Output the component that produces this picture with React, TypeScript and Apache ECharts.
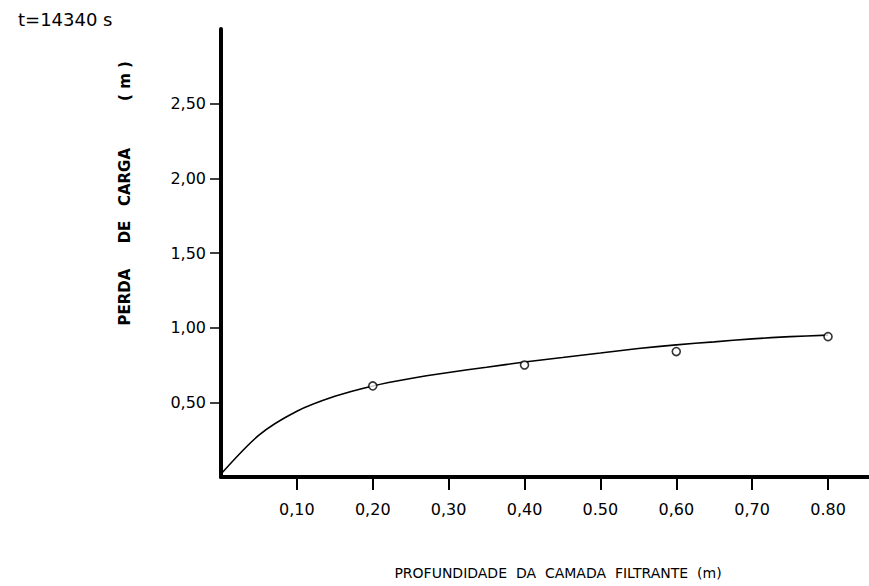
import React, { useEffect, useRef } from "react";
import * as echarts from "echarts";

const titleText = "t=14340 s";
const xAxisTitle = "PROFUNDIDADE  DA  CAMADA  FILTRANTE  (m)";
const yAxisTitleParts = ["PERDA", "DE", "CARGA", "( m )"];

const xTickValues = [0.1, 0.2, 0.3, 0.4, 0.5, 0.6, 0.7, 0.8];
const xTickLabels = ["0,10", "0,20", "0,30", "0,40", "0.50", "0,60", "0,70", "0.80"];
const yTickValues = [0.5, 1.0, 1.5, 2.0, 2.5];
const yTickLabels = ["0,50", "1,00", "1,50", "2,00", "2,50"];

// measured points (open circles)
const pointDepth = [0.2, 0.4, 0.6, 0.8];
const pointLoss = [0.61, 0.75, 0.84, 0.94];

// fitted curve
const curveDepth = [0, 0.05, 0.1, 0.15, 0.2, 0.25, 0.3, 0.35, 0.4, 0.45, 0.5, 0.55, 0.6, 0.65, 0.7, 0.75, 0.8];
const curveLoss = [0.02, 0.28, 0.44, 0.54, 0.61, 0.66, 0.7, 0.735, 0.77, 0.8, 0.83, 0.86, 0.885, 0.905, 0.925, 0.94, 0.95];

const FONT = "DejaVu Sans";

export default function App() {
  const ref = useRef<HTMLDivElement>(null);
  useEffect(() => {
    if (!ref.current) return;
    const chart = echarts.init(ref.current, null, { renderer: "svg" });
    const xLabelMap: Record<string, string> = {};
    xTickValues.forEach((v, i) => (xLabelMap[v.toFixed(2)] = xTickLabels[i]));
    const yLabelMap: Record<string, string> = {};
    yTickValues.forEach((v, i) => (yLabelMap[v.toFixed(2)] = yTickLabels[i]));

    const yParts = [
      { text: yAxisTitleParts[0], y: 297 },
      { text: yAxisTitleParts[1], y: 232 },
      { text: yAxisTitleParts[2], y: 177 },
      { text: yAxisTitleParts[3], y: 81 },
    ];

    chart.setOption({
      animation: false,
      backgroundColor: "#ffffff",
      grid: { left: 221, right: 0, top: 29, bottom: 109, containLabel: false },
      xAxis: {
        type: "value",
        min: 0,
        max: 0.854,
        splitLine: { show: false },
        axisLine: { show: true, onZero: false, lineStyle: { color: "#000", width: 4 } },
        axisTick: {
          show: true,
          customValues: xTickValues,
          length: 13,
          lineStyle: { color: "#000", width: 2 },
        },
        axisLabel: {
          customValues: xTickValues,
          margin: 24,
          color: "#000",
          fontFamily: FONT,
          fontSize: 16,
          formatter: (v: number) => xLabelMap[v.toFixed(2)] ?? "",
        },
      },
      yAxis: {
        type: "value",
        min: 0,
        max: 3.0,
        splitLine: { show: false },
        axisLine: { show: true, onZero: false, lineStyle: { color: "#000", width: 4 } },
        axisTick: {
          show: true,
          customValues: yTickValues,
          length: 11,
          lineStyle: { color: "#000", width: 1.5 },
        },
        axisLabel: {
          customValues: yTickValues,
          margin: 15,
          color: "#000",
          fontFamily: FONT,
          fontSize: 16,
          formatter: (v: number) => yLabelMap[v.toFixed(2)] ?? "",
        },
      },
      graphic: [
        {
          type: "text",
          left: 18,
          top: 10,
          style: { text: titleText, fill: "#000", font: `18px "${FONT}"` },
        },
        {
          type: "text",
          x: 558,
          y: 573,
          style: {
            text: xAxisTitle,
            fill: "#000",
            font: `14px "${FONT}"`,
            align: "center",
            verticalAlign: "middle",
          },
        },
        ...yParts.map((p) => ({
          type: "text",
          x: 125,
          y: p.y,
          rotation: Math.PI / 2,
          style: {
            text: p.text,
            fill: "#000",
            font: `bold 15px "${FONT}"`,
            align: "center",
            verticalAlign: "middle",
          },
        })),
      ],
      series: [
        {
          type: "line",
          data: curveDepth.map((x, i) => [x, curveLoss[i]]),
          smooth: 0.3,
          showSymbol: false,
          lineStyle: { color: "#000", width: 1.6 },
          z: 2,
        },
        {
          type: "scatter",
          data: pointDepth.map((x, i) => [x, pointLoss[i]]),
          symbol: "circle",
          symbolSize: 8,
          itemStyle: { color: "#fff", borderColor: "#000", borderWidth: 1.6 },
          z: 3,
        },
      ],
    });
    return () => chart.dispose();
  }, []);
  return <div ref={ref} style={{ width: 869, height: 586, position: "absolute", left: 0, top: 0 }} />;
}
